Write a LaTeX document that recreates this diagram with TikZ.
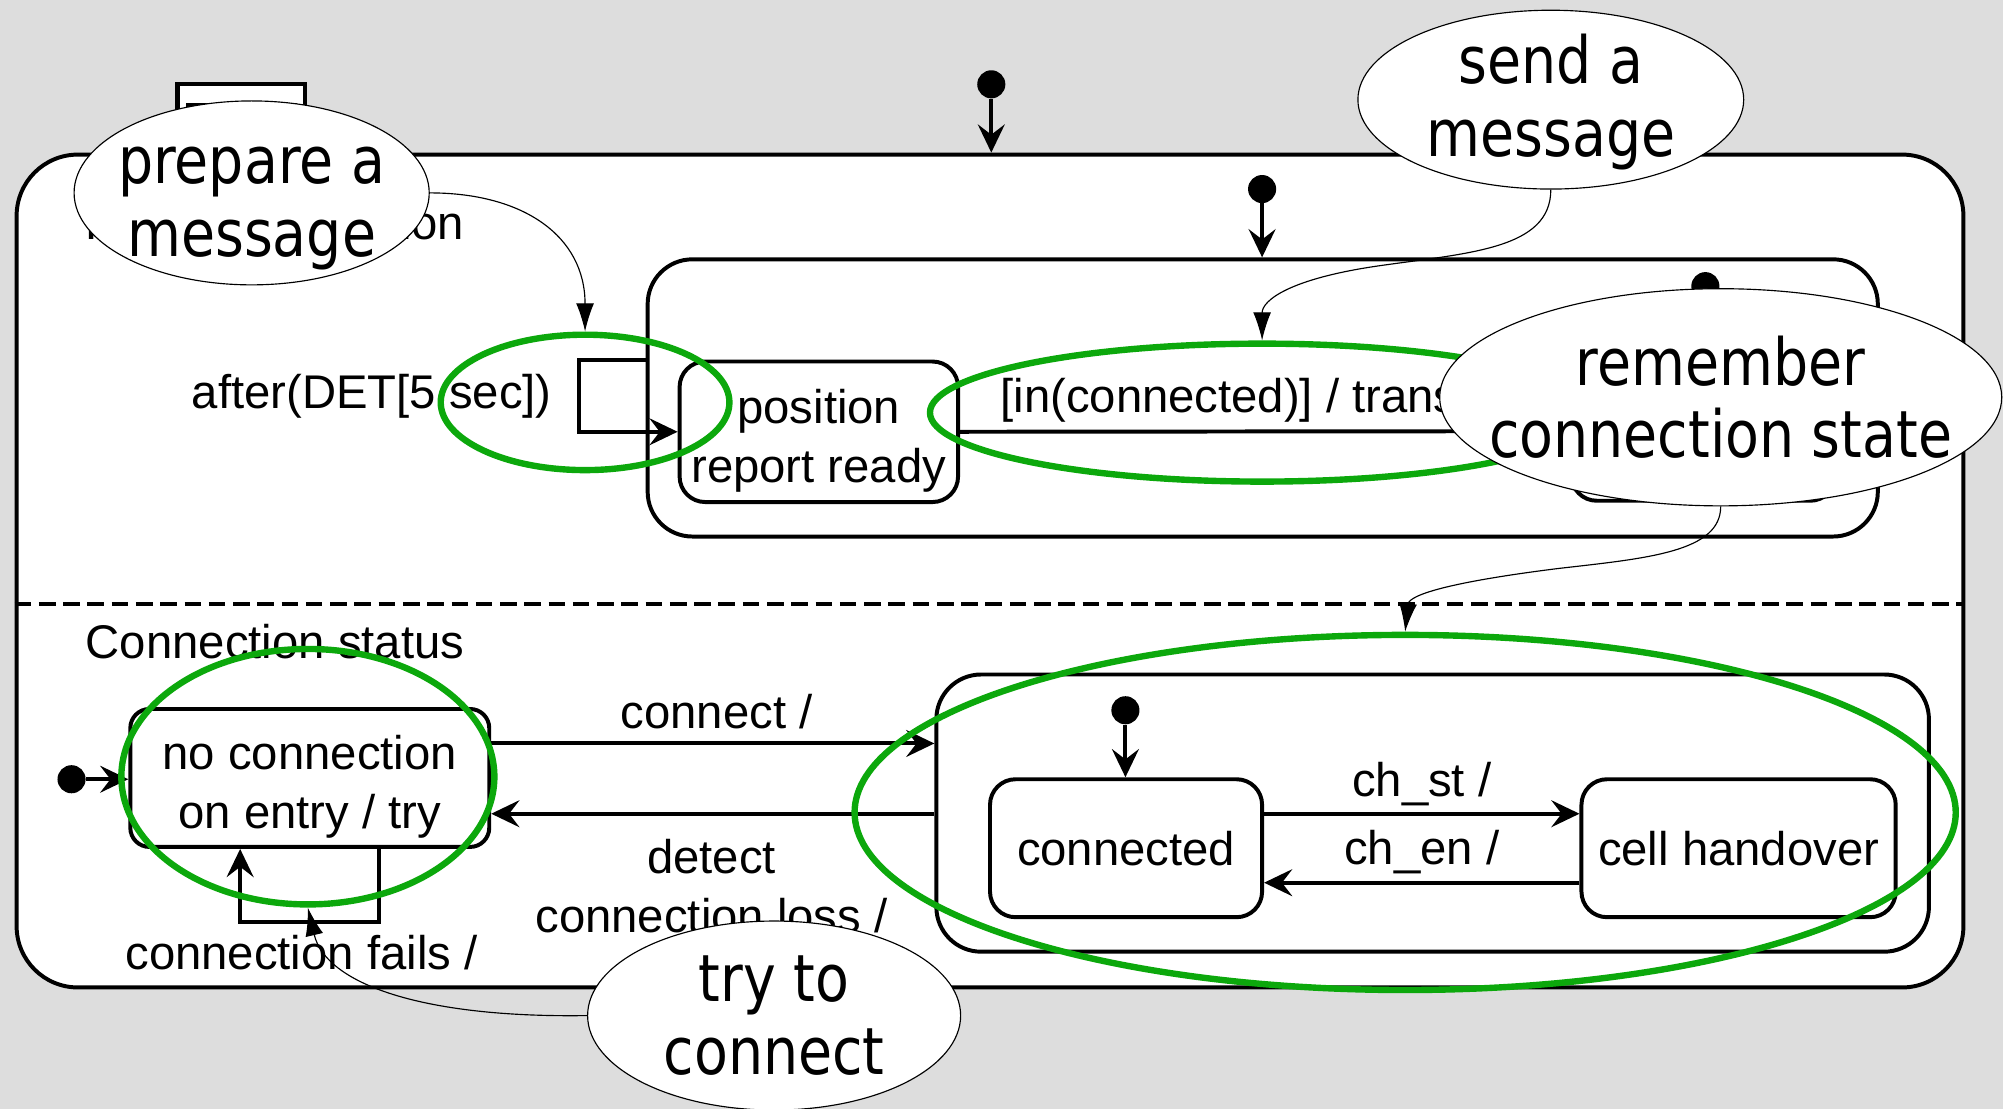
\documentclass[tikz,border=0pt]{standalone}
\usepackage{fontspec}
\setmainfont{Liberation Sans}
\newfontfamily\notefont[FakeStretch=0.85]{DejaVu Sans}
\usetikzlibrary{arrows.meta,shapes.geometric,calc}

\definecolor{bg}{RGB}{221,221,221}
\definecolor{mark}{RGB}{12,168,12}

\begin{document}
\begin{tikzpicture}[x=1pt,y=-1pt,
  txt/.style={font=\fontsize{37}{46}\selectfont},
  box/.style={draw, line width=3.1pt, fill=white, inner sep=0pt},
  state/.style={box, txt, rounded corners=20pt, align=center},
  region/.style={box, rounded corners=35pt},
  tr/.style={line width=3.1pt, -{Stealth[length=22pt,width=21pt,inset=8pt]}},
  dot/.style={circle, fill=black, inner sep=0pt, minimum size=22pt},
  lbl/.style={txt, inner sep=0pt, align=center},
  ring/.style={ellipse, draw=mark, line width=5pt, inner sep=0pt},
  note/.style={ellipse, draw, line width=0.9pt, fill=white, inner sep=0pt},
  notetext/.style={inner sep=0pt, align=center, font={\notefont\fontsize{51}{57}\selectfont}},
  pointer/.style={line width=0.9pt, -{Latex[length=22pt,width=14pt]}}
]
\fill[bg] (0,0) rectangle (1568,868);
\useasboundingbox (0,0) rectangle (1568,868);
\clip (0,0) rectangle (1568,868);

% name tab of the top-level state
\filldraw[fill=white, line width=3.3pt] (139,121) -- (139,66) -- (239,66) -- (239,121);
\draw[line width=3pt] (147,121) -- (147,82.5) -- (231,82.5) -- (231,121);

% top-level state with its two concurrent regions
\node[region, rounded corners=48pt, minimum width=1524pt, minimum height=652pt] (outer) at (775,447) {};
\coordinate (dl) at (0,473);
\draw[line width=3.1pt, dash pattern=on 13pt off 6pt] (outer.west |- dl) -- (outer.east |- dl);
\node[dot] (i0) at (776,66) {};
\draw[tr] (i0) -- (outer.north -| i0);

% upper region: reporting
\node[lbl, anchor=west] (ttl) at (67,178) {Report generation};
\node[region, minimum width=963pt, minimum height=217pt] (rep) at (988.5,311.5) {};
\node[dot] (i1) at (988,148) {};
\draw[tr] (i1) -- (rep.north -| i1);
\node[state, minimum width=218pt, minimum height=110pt] (ready) at (641,338) {};
\node[lbl] (readytxt) at ([yshift=-7pt]ready.center) {position\\report ready};
\node[state, minimum width=207pt, minimum height=109pt] (sent) at (1333.5,337.5) {};
\node[dot] (i2) at (1335,224) {};
\draw[tr] (i2) -- (sent.north -| i2);
\draw[tr] (rep.west |- ready.north) -- ++(-52,0) |- (ready.west);
\node[lbl, anchor=east] (after) at (432,310) {after(DET[5 sec])};
\draw[tr] (ready.east) -- (sent.west);
\node[lbl, anchor=west] (guard) at (783,313) {[in(connected)] / transmit};

% lower region: connection status
\node[lbl, anchor=west] (cs) at (67,502) {Connection status};
\node[state, rounded corners=15pt, minimum width=281pt, minimum height=108pt] (nc) at (242.5,609) {};
\node[lbl] (nctxt) at ([yshift=-7pt]nc.center) {no connection\\on entry / try};
\node[dot] (i3) at (56,610) {};
\draw[tr] (i3) -- (nc.west |- i3);
\draw[tr] ([xshift=54.5pt]nc.south) -- ++(0,57) -| ([xshift=-54.5pt]nc.south);
\node[lbl] (fail) at (236,746) {connection fails /};
\node[region, minimum width=777pt, minimum height=217pt] (cstate) at (1121.5,636.5) {};
\draw[tr] ([yshift=27pt]nc.east) -- ([yshift=27pt]nc.east -| cstate.west);
\node[lbl] (conn) at (561,557) {connect /};
\draw[tr] ([yshift=-28pt]nc.east -| cstate.west) -- ([yshift=-28pt]nc.east);
\node[lbl] (loss) at (557,693.5) {detect\\connection loss /};
\node[dot] (i4) at (881,556) {};
\node[state, minimum width=213pt, minimum height=108pt] (con) at (881.5,664) {connected};
\draw[tr] (i4) -- (con.north -| i4);
\node[state, minimum width=246pt, minimum height=108pt] (ho) at (1361,664) {cell handover};
\draw[tr] ([yshift=27pt]con.east) -- ([yshift=27pt]con.east -| ho.west);
\node[lbl] (st) at (1113,614) {ch\_st /};
\draw[tr] ([yshift=-27pt]con.east -| ho.west) -- ([yshift=-27pt]con.east);
\node[lbl] (en) at (1113,667) {ch\_en /};

% green highlight rings
\node[ring, minimum width=226pt, minimum height=106pt] (r1) at (458,315) {};
\node[ring, minimum width=520pt, minimum height=108pt] (r2) at (988,323) {};
\node[ring, minimum width=292pt, minimum height=200pt] (r3) at (241,608) {};
\node[ring, minimum width=862pt, minimum height=278pt] (r4) at (1100,636) {};

% callouts
\node[note, minimum width=278pt, minimum height=144pt] (cA) at (197,151) {};
\node[notetext] at ([yshift=-12pt]cA.center) {prepare a\\message};
\node[note, minimum width=302pt, minimum height=140pt] (cB) at (1214,78) {};
\node[notetext] at ([yshift=-2pt]cB.center) {send a\\message};
\node[note, minimum width=440pt, minimum height=170pt] (cC) at (1347,311) {};
\node[notetext] at (cC) {remember\\connection state};
\node[note, minimum width=292pt, minimum height=148pt] (cD) at (606,795) {};
\node[notetext] at (cD) {try to\\connect};

% callout pointers
\draw[pointer] (cA.east) .. controls (410,151) and (458,185) .. (r1.north);
\draw[pointer] (cB.south) .. controls (1214,195) and (1150,198) .. (1080,208)
  .. controls (1010,218) and (988,235) .. (r2.north);
\draw[pointer] (cC.south) .. controls (1347,432) and (1290,437) .. (1220,445)
  .. controls (1140,455) and (1103,465) .. (r4.north);
\draw[pointer] (cD.west) .. controls (330,797) and (255,770) .. (r3.south);
\end{tikzpicture}
\end{document}
